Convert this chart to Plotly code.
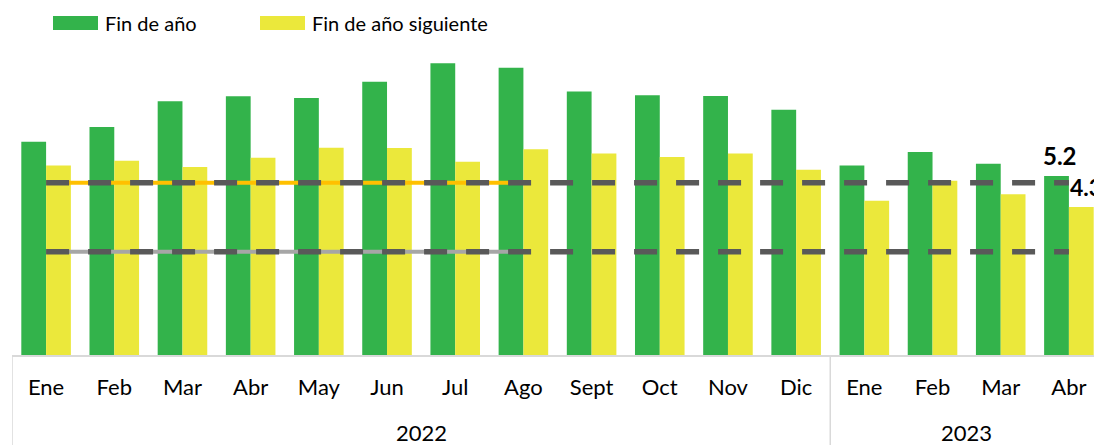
import plotly.graph_objects as go

# ---------------- data ----------------
meses = ["Ene", "Feb", "Mar", "Abr", "May", "Jun", "Jul", "Ago", "Sept", "Oct", "Nov", "Dic",
         "Ene", "Feb", "Mar", "Abr"]
anios = ["2022"] * 12 + ["2023"] * 4
fin_anio = [6.19, 6.62, 7.37, 7.51, 7.46, 7.93, 8.47, 8.34, 7.65, 7.54, 7.52, 7.12,
            5.50, 5.89, 5.55, 5.2]
fin_anio_sig = [5.50, 5.64, 5.46, 5.73, 6.02, 6.01, 5.61, 5.97, 5.85, 5.75, 5.85, 5.38,
                4.48, 5.06, 4.67, 4.3]
meta_sup = [5.0] * 16
meta_inf = [3.0] * 16
meta_sup_2022 = [5.0] * 8   # Ene-Ago 2022
meta_inf_2022 = [3.0] * 8

# ---------------- styles ----------------
GREEN = "#33B34B"
YELLOW = "#EBE83B"
ORANGE = "#FFC000"
LGRAY = "#A6A6A6"
DGRAY = "#595959"
AXC = "#D9D9D9"
FONT = "Lato"

W, H = 1094, 445
ML, MR, MT, MB = 12, 0, 45, 90
PW, PH = W - ML - MR, H - MT - MB


def px_x(p):
    return (p - ML) / PW


def px_y(p):
    return (H - MB - p) / PH


idx = list(range(len(meses)))
n = len(idx)

fig = go.Figure()
fig.add_trace(go.Bar(x=idx, y=fin_anio, name="Fin de año", marker_color=GREEN,
                     marker_line_width=0, showlegend=False))
fig.add_trace(go.Bar(x=idx, y=fin_anio_sig, name="Fin de año siguiente", marker_color=YELLOW,
                     marker_line_width=0, showlegend=False))

fig.add_trace(go.Scatter(x=idx[:len(meta_sup_2022)], y=meta_sup_2022, mode="lines",
                         line=dict(color=ORANGE, width=4), showlegend=False, hoverinfo="skip"))
fig.add_trace(go.Scatter(x=idx[:len(meta_inf_2022)], y=meta_inf_2022, mode="lines",
                         line=dict(color=LGRAY, width=4), showlegend=False, hoverinfo="skip"))
fig.add_trace(go.Scatter(x=idx, y=meta_sup, mode="lines",
                         line=dict(color=DGRAY, width=5.5, dash="23px,19px"),
                         showlegend=False, hoverinfo="skip"))
fig.add_trace(go.Scatter(x=idx, y=meta_inf, mode="lines",
                         line=dict(color=DGRAY, width=5.5, dash="23px,19px"),
                         showlegend=False, hoverinfo="skip"))

shapes = []
annotations = []

# data labels of the last month
annotations.append(dict(text=f"{fin_anio[-1]:.1f}", xref="x", yref="y", x=idx[-1], y=fin_anio[-1],
                        xshift=-9, yshift=4, showarrow=False, xanchor="center", yanchor="bottom",
                        font=dict(family=FONT, size=24, color="black", weight="bold")))
annotations.append(dict(text=f"{fin_anio_sig[-1]:.1f}", xref="x", yref="y", x=idx[-1], y=fin_anio_sig[-1],
                        xshift=-1, yshift=4, showarrow=False, xanchor="left", yanchor="bottom",
                        font=dict(family=FONT, size=23, color="black", weight="bold")))

# year groups: dividers and labels
groups = []
for i, a in enumerate(anios):
    if not groups or groups[-1][0] != a:
        groups.append([a, i, i])
    else:
        groups[-1][2] = i
yb = -MB / PH
for g, (a, i0, i1) in enumerate(groups):
    shapes.append(dict(type="line", xref="x", yref="paper", x0=i0 - 0.5, x1=i0 - 0.5,
                       y0=0, y1=yb, line=dict(color=AXC, width=1.5), layer="above"))
    annotations.append(dict(text=a, xref="x", yref="paper", x=(i0 + i1) / 2, y=px_y(432),
                            showarrow=False, xanchor="center", yanchor="middle",
                            font=dict(family=FONT, size=22, color="black")))

# manual legend
leg = [("Fin de año", GREEN, 53), ("Fin de año siguiente", YELLOW, 260)]
for name, col, x0 in leg:
    shapes.append(dict(type="rect", xref="paper", yref="paper", x0=px_x(x0), x1=px_x(x0 + 45),
                       y0=px_y(30), y1=px_y(16), fillcolor=col, line=dict(width=0)))
    annotations.append(dict(text=name, xref="paper", yref="paper", x=px_x(x0 + 50), y=px_y(23),
                            showarrow=False, xanchor="left", yanchor="middle",
                            font=dict(family=FONT, size=20, color="black")))

fig.update_layout(
    width=W, height=H,
    margin=dict(l=ML, r=MR, t=MT, b=MB, pad=0),
    paper_bgcolor="white", plot_bgcolor="white",
    barmode="group", bargap=0.273, bargroupgap=0,
    showlegend=False,
    shapes=shapes, annotations=annotations,
    xaxis=dict(tickmode="array", tickvals=idx, ticktext=meses,
               range=[-0.5, n - 0.5 - 9 / 68.2],
               showline=True, linecolor=AXC, linewidth=1.5,
               showgrid=False, zeroline=False, ticks="",
               ticklabelstandoff=12,
               tickfont=dict(family=FONT, size=22, color="black")),
    yaxis=dict(range=[0, 9], visible=False, showgrid=False, zeroline=False),
)

fig.write_html("out.html",
               config={"displayModeBar": False},
               post_script="document.body.style.margin='0';document.body.style.overflow='hidden';")
